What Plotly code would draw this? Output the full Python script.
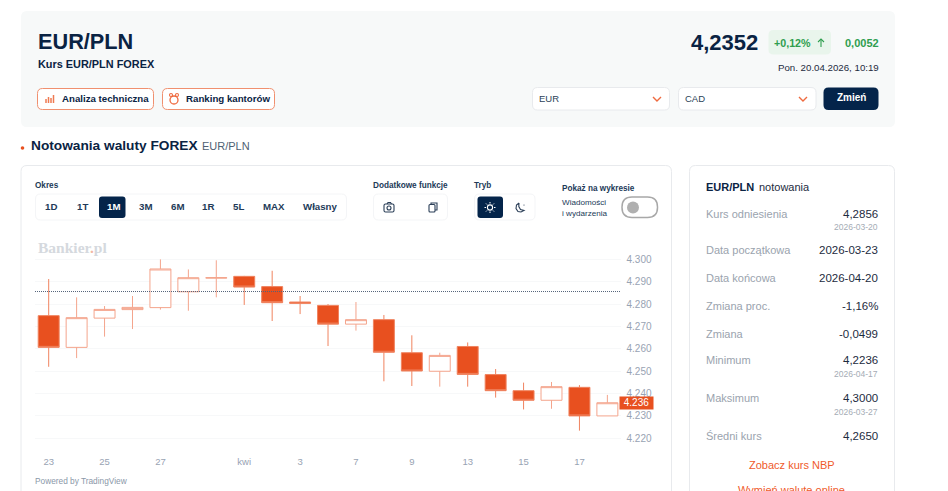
import plotly.graph_objects as go

W, H = 948, 491

# dane świec
dates = ['2026-03-23', '2026-03-24', '2026-03-25', '2026-03-26', '2026-03-27', '2026-03-30', '2026-03-31',
         '2026-04-01', '2026-04-02', '2026-04-03', '2026-04-06', '2026-04-07', '2026-04-08', '2026-04-09',
         '2026-04-10', '2026-04-13', '2026-04-14', '2026-04-15', '2026-04-16', '2026-04-17', '2026-04-20']
opens = [4.2748, 4.2606, 4.2737, 4.2775, 4.2784, 4.2855, 4.2916, 4.2924, 4.2878, 4.2809, 4.2794,
         4.2710, 4.2730, 4.2582, 4.2499, 4.2610, 4.2484, 4.2412, 4.2369, 4.2427, 4.2299]
highs = [4.2912, 4.2830, 4.2791, 4.2836, 4.3000, 4.2955, 4.2996, 4.2926, 4.2949, 4.2836, 4.2800,
         4.2809, 4.2751, 4.2660, 4.2582, 4.2628, 4.2509, 4.2448, 4.2451, 4.2437, 4.2393]
lows = [4.2519, 4.2558, 4.2654, 4.2688, 4.2775, 4.2770, 4.2830, 4.2796, 4.2724, 4.2755, 4.2612,
        4.2681, 4.2454, 4.2433, 4.2430, 4.2430, 4.2381, 4.2328, 4.2331, 4.2233, 4.2299]
closes = [4.2606, 4.2739, 4.2776, 4.2785, 4.2957, 4.2918, 4.2918, 4.2876, 4.2806, 4.2803, 4.2710,
          4.2730, 4.2584, 4.2500, 4.2570, 4.2485, 4.2412, 4.2369, 4.2430, 4.2299, 4.2358]
reference_rate = 4.2856
last_price = 4.2358

x_tick_vals = ['2026-03-23', '2026-03-25', '2026-03-27', '2026-04-01', '2026-04-03', '2026-04-07',
               '2026-04-09', '2026-04-13', '2026-04-15', '2026-04-17']
x_tick_text = ['23', '25', '27', 'kwi', '3', '7', '9', '13', '15', '17']
y_tick_vals = [4.22, 4.23, 4.24, 4.25, 4.26, 4.27, 4.28, 4.29, 4.30]

period_labels = ['1D', '1T', '1M', '3M', '6M', '1R', '5L', 'MAX', 'Własny']
period_centers = [51, 82, 113, 145, 177, 208, 239, 274, 320]

row_labels = ['Kurs odniesienia', 'Data początkowa', 'Data końcowa', 'Zmiana proc.', 'Zmiana', 'Minimum', 'Maksimum', 'Średni kurs']
row_values = ['4,2856', '2026-03-23', '2026-04-20', '-1,16%', '-0,0499', '4,2236', '4,3000', '4,2650']
row_dates = ['2026-03-20', '', '', '', '', '2026-04-17', '2026-03-27', '']
row_y = [213.5, 249.5, 277.5, 306, 334, 360, 398, 435.5]

NAVY = '#04244a'
ORANGE = '#e8501f'
FONT = 'Liberation Sans'


def px(x):
    return x / W


def py(y):
    return 1 - y / H


def rrect(x0, y0, x1, y1, r=5, fill='white', line='rgba(0,0,0,0)', width=1):
    path = (f'M {px(x0 + r)} {py(y0)} L {px(x1 - r)} {py(y0)} Q {px(x1)} {py(y0)} {px(x1)} {py(y0 + r)} '
            f'L {px(x1)} {py(y1 - r)} Q {px(x1)} {py(y1)} {px(x1 - r)} {py(y1)} '
            f'L {px(x0 + r)} {py(y1)} Q {px(x0)} {py(y1)} {px(x0)} {py(y1 - r)} '
            f'L {px(x0)} {py(y0 + r)} Q {px(x0)} {py(y0)} {px(x0 + r)} {py(y0)} Z')
    return dict(type='path', xref='paper', yref='paper', path=path, fillcolor=fill,
                line=dict(color=line, width=width), layer='below')


def polyline(points, color, width=1.2):
    path = 'M ' + ' L '.join(f'{px(x)} {py(y)}' for x, y in points)
    return dict(type='path', xref='paper', yref='paper', path=path, line=dict(color=color, width=width))


def circle(cx, cy, r, fill='rgba(0,0,0,0)', line='rgba(0,0,0,0)', width=1.2):
    return dict(type='circle', xref='paper', yref='paper', x0=px(cx - r), x1=px(cx + r),
                y0=py(cy + r), y1=py(cy - r), fillcolor=fill, line=dict(color=line, width=width))


def label(x, y, text, size=11, color='#1d2b3e', anchor='left', bold=False, family=FONT):
    if bold:
        text = f'<b>{text}</b>'
    # adnotacje mają 1 px wcięcia
    x = x - 1 if anchor == 'left' else x + 1 if anchor == 'right' else x
    return dict(xref='paper', yref='paper', x=px(x), y=py(y), text=text, showarrow=False, xanchor=anchor,
                yanchor='middle', borderpad=0, font=dict(family=family, size=size, color=color))


shapes = [
    rrect(21, 11, 895, 127, 6, '#f7f9f9'),
    rrect(37.5, 88.5, 153.5, 109.5, 5, 'white', '#f0906f'),
    rrect(162.5, 88.5, 274.5, 109.5, 5, 'white', '#f0906f'),
    rrect(768.5, 30, 831, 54.5, 5, '#e9f5ec'),
    rrect(532.5, 87.5, 669.5, 110, 5, 'white', '#e8eaed'),
    rrect(678.5, 87.5, 816, 110, 5, 'white', '#e8eaed'),
    rrect(823.5, 87.5, 878.5, 110, 5, NAVY),
    rrect(21, 165.5, 671.5, 520, 6, 'white', '#e8eaed'),
    rrect(689.5, 165.5, 894.5, 520, 6, 'white', '#e8eaed'),
    rrect(35.5, 194, 346.5, 220, 5, 'white', '#f4f5f7'),
    rrect(99, 196.5, 125.5, 218, 3, NAVY),
    rrect(373.5, 194, 447.5, 220, 5, 'white', '#f4f5f7'),
    rrect(474.5, 194, 535, 220, 5, 'white', '#f4f5f7'),
    rrect(477.5, 196.5, 503, 218, 3, NAVY),
    rrect(622, 197, 657.5, 217.5, 10, 'white', '#a8a8a8', 1.5),
    # ikony
    circle(633, 207.5, 6, fill='#b0b0b0'),
    circle(22.5, 148, 1.8, fill=ORANGE),
    polyline([(653, 97), (657, 101), (661, 97)], '#ef6a3f', 1.4),
    polyline([(799, 97), (803, 101), (807, 97)], '#ef6a3f', 1.4),
    polyline([(821, 47), (821, 39)], '#2f9e4f', 1.1),
    polyline([(818, 42), (821, 39), (824, 42)], '#2f9e4f', 1.1),
    # wykres słupkowy na przycisku
    polyline([(46, 103), (46, 99)], '#ef7a52', 1.5),
    polyline([(48.5, 103), (48.5, 97)], '#ef7a52', 1.5),
    polyline([(51, 103), (51, 98)], '#ef7a52', 1.5),
    polyline([(53.5, 103), (53.5, 95)], '#ef7a52', 1.5),
    # kantor
    circle(174, 100, 4, line='#ef6a3f', width=1.3),
    circle(171, 95, 1.5, line='#ef6a3f', width=1.1),
    circle(177, 95, 1.5, line='#ef6a3f', width=1.1),
    # aparat
    rrect(384, 204, 394, 212, 1.5, 'rgba(0,0,0,0)', '#2b3f58', 1.1),
    polyline([(387, 204), (388, 202.5), (390.5, 202.5), (391.5, 204)], '#2b3f58', 1.1),
    circle(389, 208, 2, line='#2b3f58', width=1.1),
    # kopiuj
    rrect(429, 204.5, 435, 212, 1, 'rgba(0,0,0,0)', '#2b3f58', 1.1),
    polyline([(431, 204.5), (431, 203), (437, 203), (437, 210), (435, 210)], '#2b3f58', 1.1),
    # słońce
    circle(490, 207.5, 2.6, line='white', width=1.1),
    polyline([(490, 202), (490, 203.5)], 'white', 1),
    polyline([(490, 211.5), (490, 213)], 'white', 1),
    polyline([(484.5, 207.5), (486, 207.5)], 'white', 1),
    polyline([(494, 207.5), (495.5, 207.5)], 'white', 1),
    polyline([(486, 203.5), (487, 204.5)], 'white', 1),
    polyline([(493, 210.5), (494, 211.5)], 'white', 1),
    polyline([(486, 211.5), (487, 210.5)], 'white', 1),
    polyline([(493, 204.5), (494, 203.5)], 'white', 1),
    # księżyc
    polyline([(519, 203), (516.5, 205), (516, 208.5), (518, 211.5), (521, 212), (524, 210.5), (520.5, 209.5),
              (518.8, 206.5), (519, 203)], '#2b3f58', 1.1),
    circle(524, 205, 0.6, fill='#2b3f58'),
    # linia kursu odniesienia
    dict(type='line', xref='x domain', yref='y', x0=0, x1=1, y0=reference_rate, y1=reference_rate,
         line=dict(color='#55647a', width=1, dash='1px,1px'), layer='above'),
]

annotations = [
    label(38, 41, 'EUR/PLN', 21.7, '#0a2343', bold=True),
    label(38, 63.5, 'Kurs EUR/PLN FOREX', 10.9, '#0a2343', bold=True),
    label(61.5, 98, 'Analiza techniczna', 9.7, '#0a2343', bold=True),
    label(185.5, 98, 'Ranking kantorów', 9.7, '#0a2343', bold=True),
    label(757.5, 42, '4,2352', 22, '#0a2343', 'right', True),
    label(774, 43, '+0,12%', 10.7, '#2f9e4f', bold=True),
    label(879, 43, '0,0052', 11, '#2f9e4f', 'right', True),
    label(879, 68, 'Pon. 20.04.2026, 10:19', 9.7, '#1d2b3e', 'right'),
    label(539, 99, 'EUR', 9.5, '#2b3f58'),
    label(685, 99, 'CAD', 9.5, '#2b3f58'),
    label(851, 97, 'Zmień', 10, 'white', 'center', True),
    label(31, 145, 'Notowania waluty FOREX', 13.7, '#0a2343', bold=True),
    label(202, 146, 'EUR/PLN', 11, '#4f5f73'),
    label(35, 185, 'Okres', 8.2, '#223a58', bold=True),
    label(373, 185, 'Dodatkowe funkcje', 8.2, '#223a58', bold=True),
    label(474, 185, 'Tryb', 8.2, '#223a58', bold=True),
    label(562, 188.5, 'Pokaż na wykresie', 8.2, '#223a58', bold=True),
    label(562, 202, 'Wiadomości', 8.1, '#223a58'),
    label(562, 213, 'i wydarzenia', 8.1, '#223a58'),
    label(38, 247, '<b>Bankier<span style="color:#f3b8a3">.</span>pl</b>', 15.5, '#d5d9de', family='Liberation Serif'),
    label(35, 481, 'Powered by TradingView', 8.3, '#8a97a8'),
    label(706, 187, 'EUR/PLN', 11, '#0a2343', bold=True),
    label(758.5, 187, 'notowania', 11, '#1d2b3e'),
    label(791.5, 465, 'Zobacz kurs NBP', 11, '#ef5a2b', 'center'),
    label(791.5, 490, 'Wymień walutę online', 11, '#ef5a2b', 'center'),
    dict(xref='paper', yref='y', x=px(636.5), y=last_price, text='4.236', showarrow=False, bgcolor=ORANGE, width=33,
         height=11.5, xanchor='center', borderpad=0, font=dict(family=FONT, size=10, color='white')),
]

for text, center in zip(period_labels, period_centers):
    annotations.append(label(center, 206, text, 9.7, 'white' if text == '1M' else '#223a58', 'center', True))

for text, value, when, y in zip(row_labels, row_values, row_dates, row_y):
    annotations.append(label(706, y, text, 11, '#9aa3ae'))
    annotations.append(label(878, y, value, 11.5, '#1d2b3e', 'right'))
    if when:
        annotations.append(label(878, y + 13.5, when, 8.5, '#a5acb5', 'right'))

fig = go.Figure(go.Candlestick(
    x=dates, open=opens, high=highs, low=lows, close=closes,
    increasing=dict(line=dict(color='#f4a48c', width=1), fillcolor='white'),
    decreasing=dict(line=dict(color='#f0835f', width=1), fillcolor=ORANGE),
    whiskerwidth=0,
))

fig.update_layout(
    width=W, height=H,
    margin=dict(l=0, r=0, t=0, b=0),
    paper_bgcolor='white', plot_bgcolor='rgba(0,0,0,0)',
    showlegend=False,
    boxmode='overlay', boxgap=0.25, boxgroupgap=0,
    shapes=shapes,
    annotations=annotations,
    xaxis=dict(type='category', categoryorder='array', categoryarray=dates, rangeslider=dict(visible=False),
               domain=[px(35), px(620.5)], range=[-0.49, 20.47], showgrid=False, zeroline=False, showline=False,
               tickmode='array', tickvals=x_tick_vals, ticktext=x_tick_text, ticks='outside', ticklen=9,
               tickcolor='rgba(0,0,0,0)', tickfont=dict(family=FONT, size=9.5, color='#98a3b3')),
    yaxis=dict(side='right', domain=[py(443.6), py(250)], range=[4.2175, 4.3042], showgrid=True, gridcolor='#f7f8f9',
               zeroline=False, showline=False, tickmode='array', tickvals=y_tick_vals, tickformat='.3f',
               ticks='outside', ticklen=3, tickcolor='rgba(0,0,0,0)',
               tickfont=dict(family=FONT, size=10, color='#98a3b3')),
)

fig.write_html('out.html', config=dict(displayModeBar=False),
               post_script="document.body.style.margin='0';document.body.style.overflow='hidden';")
